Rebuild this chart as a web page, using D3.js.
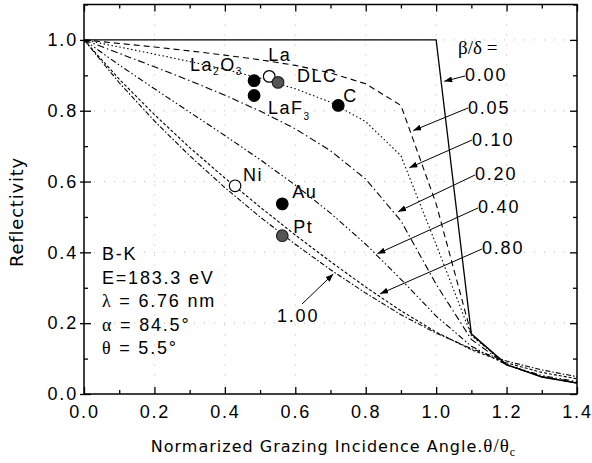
<!DOCTYPE html>
<html>
<head>
<meta charset="utf-8">
<script src="https://cdn.jsdelivr.net/npm/d3@7"></script>
<style>
body { margin: 0; background: #fff; }
</style>
</head>
<body>
<svg id="chart" width="592" height="463" style="font-family: 'Liberation Sans', Arial, sans-serif;"></svg>
<script>
// normalized grazing angle theta/theta_c
var angles = [0.0, 0.1, 0.2, 0.3, 0.4, 0.5, 0.6, 0.7, 0.8, 0.9, 1.0, 1.1, 1.2, 1.3, 1.4];

// reflectivity for each beta/delta
var ratioLabels = ["0.00", "0.05", "0.10", "0.20", "0.40", "0.80", "1.00"];
var refl000 = [1, 1, 1, 1, 1, 1, 1, 1, 1, 1, 1, 0.170, 0.083, 0.048, 0.031];
var refl005 = [1, 0.990, 0.980, 0.969, 0.957, 0.944, 0.928, 0.907, 0.876, 0.815, 0.537, 0.168, 0.083, 0.049, 0.031];
var refl010 = [1, 0.980, 0.960, 0.939, 0.917, 0.892, 0.862, 0.824, 0.769, 0.673, 0.422, 0.165, 0.083, 0.049, 0.031];
var refl020 = [1, 0.962, 0.924, 0.885, 0.844, 0.799, 0.749, 0.687, 0.607, 0.489, 0.310, 0.154, 0.082, 0.049, 0.032];
var refl040 = [1, 0.929, 0.862, 0.796, 0.730, 0.662, 0.590, 0.511, 0.423, 0.324, 0.220, 0.135, 0.082, 0.052, 0.035];
var refl080 = [1, 0.889, 0.789, 0.696, 0.610, 0.528, 0.449, 0.374, 0.302, 0.235, 0.175, 0.125, 0.088, 0.061, 0.043];
var refl100 = [1, 0.879, 0.771, 0.673, 0.583, 0.500, 0.423, 0.351, 0.285, 0.224, 0.172, 0.128, 0.093, 0.068, 0.049];

// measured samples
var sampleNames = ["La2O3", "LaF3", "La", "DLC", "C", "Ni", "Au", "Pt"];
var sampleAngle = [0.483, 0.483, 0.526, 0.551, 0.722, 0.429, 0.563, 0.563];
var sampleRefl = [0.885, 0.843, 0.897, 0.880, 0.815, 0.588, 0.537, 0.447];
var sampleKind = ["solid", "solid", "open", "gray", "solid", "open", "solid", "gray"];

// tick values
var xMajor = [0.0, 0.2, 0.4, 0.6, 0.8, 1.0, 1.2, 1.4];
var xMinor = [0.1, 0.3, 0.5, 0.7, 0.9, 1.1, 1.3];
var yMajor = [0.0, 0.2, 0.4, 0.6, 0.8, 1.0];
var yMinor = [0.1, 0.3, 0.5, 0.7, 0.9, 1.1];

var SANS = "'Liberation Sans', Arial, sans-serif";
var SERIF = "'Liberation Serif', 'Times New Roman', serif";
var GOTHIC = "'DejaVu Sans', sans-serif";

var margin = { top: 4.5, right: 15, bottom: 69, left: 84 };
var width = 592 - margin.left - margin.right;
var height = 463 - margin.top - margin.bottom;

var svg = d3.select("#chart");
var defs = svg.append("defs");
defs.append("marker").attr("id", "arrow")
    .attr("markerUnits", "userSpaceOnUse")
    .attr("markerWidth", 8).attr("markerHeight", 6)
    .attr("refX", 8).attr("refY", 3).attr("orient", "auto")
    .append("path").attr("d", "M0,0 L8,3 L0,6 Z").attr("fill", "#000");

var g = svg.append("g")
    .attr("transform", "translate(" + margin.left + "," + margin.top + ")");

var x = d3.scaleLinear().domain([0, 1.4]).range([0, width]);
var y = d3.scaleLinear().domain([0, 1.1]).range([height, 0]);

// faint dotted grid
g.selectAll(".vgrid").data(xMajor.slice(1, -1)).enter().append("line")
    .attr("x1", function(d) { return x(d); }).attr("x2", function(d) { return x(d); })
    .attr("y1", 0).attr("y2", height)
    .attr("stroke", "#bbb").attr("stroke-width", 1).attr("stroke-dasharray", "1,9");
g.selectAll(".hgrid").data(yMajor.slice(1)).enter().append("line")
    .attr("x1", 0).attr("x2", width)
    .attr("y1", function(d) { return y(d); }).attr("y2", function(d) { return y(d); })
    .attr("stroke", "#bbb").attr("stroke-width", 1).attr("stroke-dasharray", "1,9");

// curves
var series = [refl000, refl005, refl010, refl020, refl040, refl080, refl100];
var dashes = [null, "6,4", "1.5,2.5", "7,3,1.5,3", "6,2.5,1.5,2.5,1.5,2.5", "3,2", "5,2,1.5,2"];
var line = d3.line()
    .x(function(d) { return x(d[0]); })
    .y(function(d) { return y(d[1]); });

series.forEach(function(vals, i) {
    g.append("path")
        .datum(angles.map(function(a, j) { return [a, vals[j]]; }))
        .attr("fill", "none")
        .attr("stroke", "#000")
        .attr("stroke-width", i === 0 ? 1.3 : 1.1)
        .attr("stroke-dasharray", dashes[i])
        .attr("d", line);
});

// axes
function styleAxis(sel) {
    sel.selectAll(".domain").remove();
    sel.selectAll(".tick line").attr("stroke", "#000").attr("stroke-width", 1.3);
    sel.selectAll("text").attr("font-size", 18).attr("letter-spacing", "1.8px")
        .style("font-family", SANS).attr("fill", "#000");
}
var fmt = d3.format(".1f");

g.append("g").attr("transform", "translate(0," + height + ")")
    .call(d3.axisBottom(x).tickValues(xMajor).tickSize(-7).tickPadding(11).tickFormat(fmt))
    .call(styleAxis);
g.append("g").attr("transform", "translate(0," + height + ")")
    .call(d3.axisBottom(x).tickValues(xMinor).tickSize(-4).tickFormat(""))
    .call(styleAxis);
g.append("g")
    .call(d3.axisTop(x).tickValues(xMajor).tickSize(-7).tickFormat(""))
    .call(styleAxis);
g.append("g")
    .call(d3.axisTop(x).tickValues(xMinor).tickSize(-4).tickFormat(""))
    .call(styleAxis);

var yAxis = g.append("g")
    .call(d3.axisLeft(y).tickValues(yMajor).tickSize(-7).tickPadding(6).tickFormat(fmt))
    .call(styleAxis);
yAxis.selectAll(".tick line").attr("x1", -4);
g.append("g")
    .call(d3.axisLeft(y).tickValues(yMinor).tickSize(-4).tickFormat(""))
    .call(styleAxis);
g.append("g").attr("transform", "translate(" + width + ",0)")
    .call(d3.axisRight(y).tickValues(yMajor).tickSize(-7).tickFormat(""))
    .call(styleAxis);
g.append("g").attr("transform", "translate(" + width + ",0)")
    .call(d3.axisRight(y).tickValues(yMinor).tickSize(-4).tickFormat(""))
    .call(styleAxis);

g.append("rect").attr("width", width).attr("height", height)
    .attr("fill", "none").attr("stroke", "#000").attr("stroke-width", 1.5);

// sample markers
g.selectAll(".sample").data(sampleNames).enter().append("circle")
    .attr("cx", function(d, i) { return x(sampleAngle[i]); })
    .attr("cy", function(d, i) { return y(sampleRefl[i]); })
    .attr("r", 5.8)
    .attr("fill", function(d, i) {
        return sampleKind[i] === "solid" ? "#000" : sampleKind[i] === "open" ? "#fff" : "#555";
    })
    .attr("stroke", function(d, i) { return sampleKind[i] === "gray" ? "#222" : "#000"; })
    .attr("stroke-width", 1.2);

// sample labels (offsets in px from the marker)
var labelOffsets = {
    "La2O3": [-64, -16], "LaF3": [14, 12], "La": [-1, -22], "DLC": [19, -7],
    "C": [5, -10], "Ni": [8, -11], "Au": [10, -12], "Pt": [11, -9]
};
sampleNames.forEach(function(name, i) {
    var off = labelOffsets[name];
    var t = g.append("text")
        .attr("x", x(sampleAngle[i]) + off[0])
        .attr("y", y(sampleRefl[i]) + off[1] + 6.5)
        .attr("font-size", 18).attr("letter-spacing", "1.5px");
    if (name === "La2O3") {
        t.append("tspan").text("La");
        t.append("tspan").attr("font-size", 10).attr("dy", 4).text("2");
        t.append("tspan").attr("dy", -4).text("O");
        t.append("tspan").attr("font-size", 10).attr("dy", 4).text("3");
    } else if (name === "LaF3") {
        t.append("tspan").text("LaF");
        t.append("tspan").attr("font-size", 10).attr("dy", 6).text("3");
    } else {
        t.text(name);
    }
});

// beta/delta legend with arrows
var legendPos = [[465, 74], [468, 107], [472, 139], [475, 173], [478, 206], [482, 247], [277, 315]];
var arrowFrom = [[465, 76], [468, 108], [472, 140], [475, 175], [478, 208], [482, 249], [302, 304]];
var arrowTip = [[1.023, 0.883], [0.935, 0.744], [0.924, 0.639], [0.892, 0.515], [0.833, 0.396], [0.841, 0.283], [0.708, 0.339]];

svg.append("text").attr("x", 458).attr("y", 54)
    .style("font-family", SERIF).attr("font-size", 19)
    .text("\u03b2/\u03b4 =");

ratioLabels.forEach(function(lab, i) {
    svg.append("text").attr("x", legendPos[i][0]).attr("y", legendPos[i][1] + 6.5)
        .attr("font-size", 18).attr("letter-spacing", "1.8px").text(lab);
    svg.append("line")
        .attr("x1", arrowFrom[i][0]).attr("y1", arrowFrom[i][1])
        .attr("x2", margin.left + x(arrowTip[i][0]))
        .attr("y2", margin.top + y(arrowTip[i][1]))
        .attr("stroke", "#000").attr("stroke-width", 1)
        .attr("marker-end", "url(#arrow)");
});

// condition block
var lines = [
    [["", "B-K"]],
    [["", "E=183.3 eV"]],
    [["\u03bb", " = 6.76 nm"]],
    [["\u03b1", " = 84.5\u00b0"]],
    [["\u03b8", " = 5.5\u00b0"]]
];
lines.forEach(function(parts, i) {
    var ty = 253.5 - margin.top + 6.5 + i * 23.5;
    var t = g.append("text").attr("x", 18).attr("y", ty)
        .attr("font-size", 18).attr("letter-spacing", "1.8px");
    parts.forEach(function(p) {
        if (p[0]) t.append("tspan").style("font-family", SERIF).text(p[0]);
        t.append("tspan").text(p[1]);
    });
});

// axis titles
var xt = svg.append("text")
    .attr("x", margin.left + width / 2 + 3).attr("y", 452)
    .attr("text-anchor", "middle")
    .style("font-family", GOTHIC).attr("font-size", 16)
    .attr("letter-spacing", "1px");
xt.append("tspan").text("Normarized Grazing Incidence Angle.");
xt.append("tspan").style("font-family", SERIF).attr("font-size", 19).text("\u03b8/\u03b8");
xt.append("tspan").style("font-family", SERIF).attr("font-size", 12).attr("dy", 4).text("c");

svg.append("text")
    .attr("transform", "translate(23,212) rotate(-90)")
    .attr("text-anchor", "middle")
    .style("font-family", GOTHIC).attr("font-size", 18)
    .attr("letter-spacing", "0.8px")
    .text("Reflectivity");
</script>
</body>
</html>
